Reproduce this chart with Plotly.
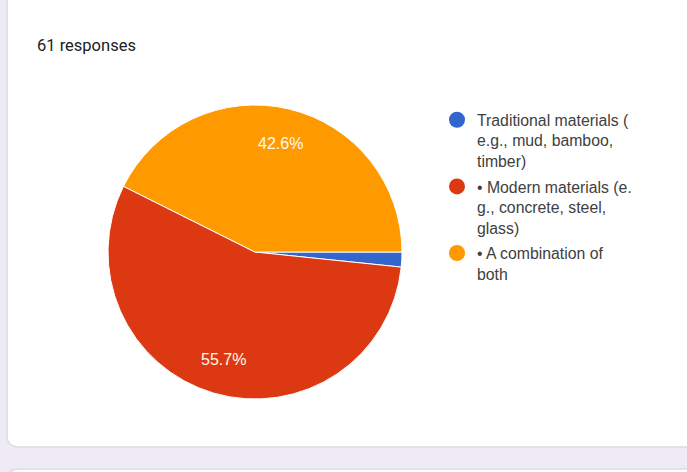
import math
import plotly.graph_objects as go

# Survey answers and their counts
labels = [
    "Traditional materials (<br>e.g., mud, bamboo,<br>timber)",
    "• Modern materials (e.<br>g., concrete, steel,<br>glass)",
    "• A combination of<br>both",
]
counts = [1, 34, 26]
colors = ["#3366cc", "#dc3912", "#ff9900"]
title_text = "61 responses"

W, H = 687, 472


def px(x):
    return x / W


def py(y):
    # pixel y from top -> paper fraction from bottom
    return (H - y) / H


# pie geometry (pixels)
cx, cy, R = 255, 252, 147

fig = go.Figure()
fig.add_trace(go.Pie(
    labels=labels,
    values=counts,
    sort=False,
    direction="clockwise",
    rotation=90,
    marker=dict(colors=colors, line=dict(color="white", width=1)),
    textinfo="none",
    hoverinfo="label+value+percent",
    showlegend=False,
    domain=dict(x=[px(cx - R), px(cx + R)], y=[py(cy + R), py(cy - R)]),
))

# legend entries with round swatches
for name, col in zip(labels, colors):
    fig.add_trace(go.Scatter(
        x=[None], y=[None], mode="markers", name=name,
        marker=dict(color=col, size=16, symbol="circle"),
        legendgroup=name, showlegend=True, hoverinfo="skip",
    ))

# percentage labels placed at the slice mid-angles
total = sum(counts)
annotations = []
cum = 0
for v in counts:
    frac = v / total
    mid = -(cum + v / 2) / total * 2 * math.pi  # clockwise from 3 o'clock
    cum += v
    if frac < 0.05:
        continue
    rr = 0.76 * R
    annotations.append(dict(
        x=px(cx + rr * math.cos(mid)), y=py(cy - rr * math.sin(mid)),
        xref="paper", yref="paper", showarrow=False,
        text=f"{frac * 100:.1f}%",
        font=dict(family="Liberation Sans, Arial, sans-serif", size=16, color="#fffaf0"),
        xanchor="center", yanchor="middle",
    ))

# card background
r = 12
card_l, card_r, card_t, card_b = 7, 700, -20, 447
card_path = (
    f"M {px(card_l)},{py(card_t)} "
    f"L {px(card_l)},{py(card_b - r)} "
    f"Q {px(card_l)},{py(card_b)} {px(card_l + r)},{py(card_b)} "
    f"L {px(card_r)},{py(card_b)} "
    f"L {px(card_r)},{py(card_t)} Z"
)
next_t = 469
next_path = (
    f"M {px(card_l)},{py(H + 20)} "
    f"L {px(card_l)},{py(next_t + r)} "
    f"Q {px(card_l)},{py(next_t)} {px(card_l + r)},{py(next_t)} "
    f"L {px(card_r)},{py(next_t)} "
    f"L {px(card_r)},{py(H + 20)} Z"
)
shapes = [
    dict(type="path", path=card_path, xref="paper", yref="paper",
         fillcolor="white", line=dict(color="#dcdbe3", width=1.5), layer="below"),
    dict(type="path", path=next_path, xref="paper", yref="paper",
         fillcolor="white", line=dict(color="#dcdbe3", width=1.5), layer="below"),
]

fig.update_layout(
    width=W, height=H,
    margin=dict(l=0, r=0, t=0, b=0),
    paper_bgcolor="#eeebf6",
    plot_bgcolor="rgba(0,0,0,0)",
    xaxis=dict(visible=False), yaxis=dict(visible=False),
    title=dict(
        text=title_text, x=px(37), xanchor="left", xref="paper",
        y=py(45), yanchor="middle", yref="container",
        font=dict(family="Roboto, sans-serif", size=16.5, color="#202124"),
    ),
    legend=dict(
        x=px(437), y=py(103), xanchor="left", yanchor="top",
        font=dict(family="Liberation Sans, Arial, sans-serif", size=15.8, color="#404040"),
        valign="top", itemsizing="trace", tracegroupgap=2,
        bgcolor="rgba(0,0,0,0)",
    ),
    shapes=shapes,
    annotations=annotations,
)

fig.write_html("out.html")
